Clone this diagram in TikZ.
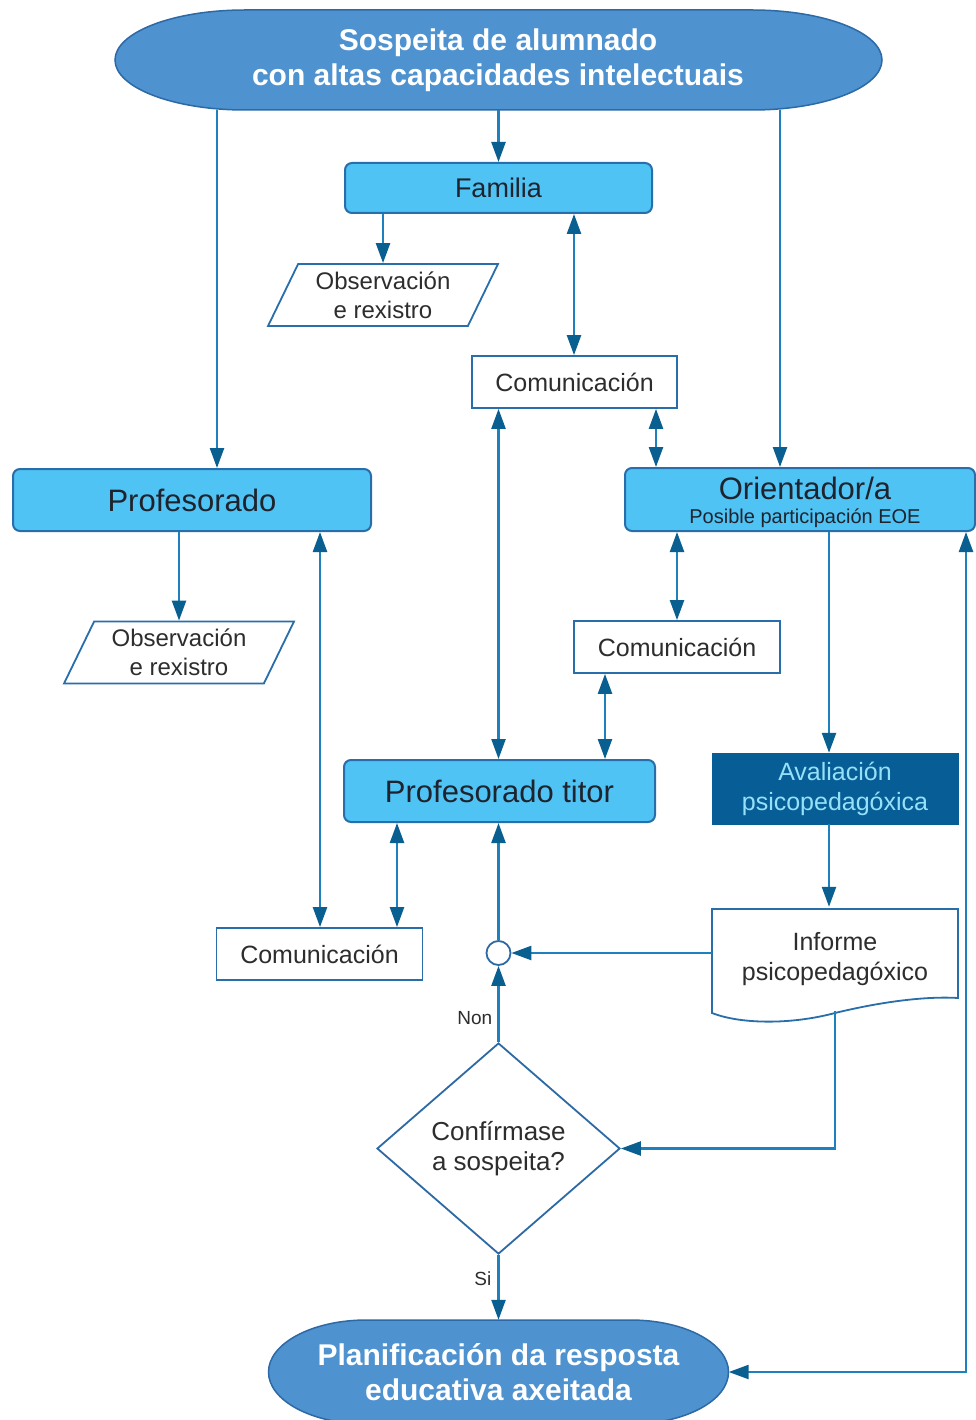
\documentclass[tikz,border=0pt]{standalone}
\usepackage{fontspec}
\setmainfont{Liberation Sans}
\usetikzlibrary{arrows.meta,calc,shapes.geometric}
\definecolor{stad}{RGB}{78,146,208}
\definecolor{stadb}{RGB}{45,105,165}
\definecolor{lite}{RGB}{80,195,245}
\definecolor{liteb}{RGB}{40,110,170}
\definecolor{darkbox}{RGB}{7,94,150}
\definecolor{darktxt}{RGB}{150,225,250}
\definecolor{lin}{RGB}{30,128,188}
\definecolor{tipc}{RGB}{10,95,145}
\definecolor{txt}{RGB}{30,35,45}
\definecolor{grytxt}{RGB}{45,45,45}
\begin{document}
\begin{tikzpicture}[x=1pt,y=-1pt,
  >={Triangle[length=20pt,width=14pt,color=tipc]},
  lbox/.style={draw=liteb, line width=2pt, fill=lite, rounded corners=7pt, text=txt, align=center, inner sep=0pt},
  wbox/.style={draw=liteb, line width=1.8pt, fill=white, text=grytxt, inner sep=0pt, font=\fontsize{25}{30}\selectfont},
  ghost/.style={inner sep=0pt, align=center, text=grytxt},
  para/.style={trapezium, trapezium left angle=63, trapezium right angle=117, trapezium stretches=true,
     draw=liteb, line width=1.8pt, fill=white, inner sep=0pt, align=center, text=grytxt,
     minimum width=230pt, minimum height=62pt, font=\fontsize{24}{29}\selectfont},
  conn/.style={draw=lin, line width=2.4pt, ->},
  dconn/.style={draw=lin, line width=2.4pt, <->},
  lbl/.style={text=grytxt, font=\fontsize{19}{22}\selectfont, inner sep=0pt}
]
\useasboundingbox (0,0) rectangle (976,1420);
\fill[white] (0,0) rectangle (976,1420);

% top stadium
\filldraw[fill=stad, draw=stadb, line width=1.5pt] (245,10) -- (752,10)
  arc[start angle=90, end angle=-90, x radius=130pt, y radius=50pt] -- (245,110)
  arc[start angle=270, end angle=90, x radius=130pt, y radius=50pt] -- cycle;
\node[ghost, text=white, minimum width=767pt, minimum height=100pt,
  font=\bfseries\fontsize{30}{35}\selectfont] (top) at (498,60)
  {Sospeita de alumnado\\con altas capacidades intelectuais};

% bottom stadium
\filldraw[fill=stad, draw=stadb, line width=1.5pt] (366.5,1320) -- (630.5,1320)
  arc[start angle=90, end angle=-90, x radius=98pt, y radius=52pt] -- (366.5,1424)
  arc[start angle=270, end angle=90, x radius=98pt, y radius=52pt] -- cycle;
\node[ghost, text=white, minimum width=460pt, minimum height=104pt,
  font=\bfseries\fontsize{30}{35}\selectfont] (plan) at (498.5,1372)
  {Planificación da resposta\\educativa axeitada};

\node[lbox, minimum width=307pt, minimum height=50pt, font=\fontsize{27}{30}\selectfont] (fam) at (498.5,188) {Familia};
\node[para] (obs1) at (383,295) {Observación\\e rexistro};
\node[wbox, minimum width=205pt, minimum height=52pt] (com1) at (574.5,382) {Comunicación};
\node[lbox, minimum width=358pt, minimum height=62pt, font=\fontsize{31}{34}\selectfont] (prof) at (192,500) {Profesorado};
\node[lbox, minimum width=350pt, minimum height=63pt] (ori) at (800,499.5) {};
\node[ghost, text=txt, font=\fontsize{31}{34}\selectfont] (orit) at (805,488) {Orientador/a};
\node[ghost, text=txt, font=\fontsize{20}{24}\selectfont] (oris) at (805,518) {Posible participación EOE};
\node[para] (obs2) at (179,652.5) {Observación\\e rexistro};
\node[wbox, minimum width=206pt, minimum height=52pt] (com2) at (677,647) {Comunicación};
\node[lbox, minimum width=311pt, minimum height=62pt, font=\fontsize{31}{34}\selectfont] (titor) at (499.5,791) {Profesorado titor};
\node[fill=darkbox, draw=darkbox, text=darktxt, minimum width=246pt, minimum height=71pt, inner sep=0pt,
  align=center, font=\fontsize{25}{30}\selectfont] (aval) at (835,788.5) {Avaliación\\psicopedagóxica};
\node[wbox, minimum width=206pt, minimum height=52pt] (com3) at (319.5,954) {Comunicación};

% document shape (Informe)
\filldraw[fill=white, draw=liteb, line width=1.8pt] (712,909) -- (958,909) -- (958,998)
  .. controls (925,996) and (880,1002) .. (835,1013)
  .. controls (790,1025) and (740,1024) .. (712,1013) -- cycle;
\node[ghost, minimum width=246pt, minimum height=104pt, font=\fontsize{25}{30}\selectfont] (inf) at (835,959)
  {Informe\\psicopedagóxico};

\node[circle, draw=stadb, line width=1.8pt, fill=white, minimum size=24pt, inner sep=0pt] (circ) at (498.5,953) {};
\node[diamond, draw=stadb, line width=1.8pt, fill=white, minimum width=243pt, minimum height=211pt,
  inner sep=0pt, align=center, text=grytxt, font=\fontsize{26}{30}\selectfont] (dia) at (498.5,1148.5)
  {Confírmase\\a sospeita?};

% x positions
\coordinate (xL) at (217,0);
\coordinate (xR) at (780,0);
\coordinate (xF) at (574,0);
\coordinate (xC1) at (656,0);
\coordinate (xP) at (320,0);
\coordinate (xC2) at (605,0);
\coordinate (xT) at (397,0);
\coordinate (xA) at (829,0);
\coordinate (xE) at (966,0);

% connectors
\draw[conn] (top.south -| fam.north) -- (fam.north);
\draw[conn] (top.south -| xL) -- (prof.north -| xL);
\draw[conn] (top.south -| xR) -- (ori.north -| xR);
\draw[conn] (fam.south -| obs1.north) -- (obs1.north);
\draw[dconn] (fam.south -| xF) -- (com1.north -| xF);
\draw[dconn] (com1.south -| xC1) -- (ori.north -| xC1);
\draw[dconn] (com1.south -| circ.north) -- (titor.north -| circ.north);
\draw[conn] (prof.south -| obs2.north) -- (obs2.north);
\draw[dconn] (prof.south -| xP) -- (com3.north -| xP);
\draw[dconn] (ori.south -| com2.north) -- (com2.north);
\draw[dconn] (com2.south -| xC2) -- (titor.north -| xC2);
\draw[dconn] (titor.south -| xT) -- (com3.north -| xT);
\draw[conn] (ori.south -| xA) -- (aval.north -| xA);
\draw[conn] (aval.south -| xA) -- (inf.north -| xA);
\draw[conn] (circ.east -| inf.west) -- (circ.east);
\draw[conn] (circ.north) -- (titor.south -| circ.north);
\draw[conn] (dia.north) -- (circ.south) node[lbl, pos=0.32, left=5pt] {Non};
\draw[conn] (inf.south) |- (dia.east);
\draw[conn] (dia.south) -- (plan.north) node[lbl, pos=0.36, left=6pt] {Si};
\draw[dconn] (ori.south -| xE) |- (plan.east);
\end{tikzpicture}
\end{document}
